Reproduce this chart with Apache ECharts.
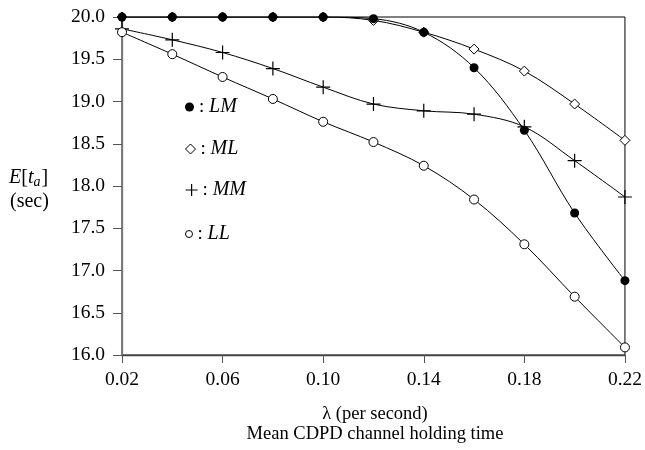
<!DOCTYPE html>
<html>
<head>
<meta charset="utf-8">
<script src="https://cdn.jsdelivr.net/npm/echarts@6/dist/echarts.min.js"></script>
<style>
  html, body { margin: 0; padding: 0; background: #fff; }
  #chart { width: 645px; height: 450px; }
</style>
</head>
<body>
<div id="chart"></div>
<script>
// Arrival rate lambda (per second)
const lambdas = [0.02, 0.04, 0.06, 0.08, 0.10, 0.12, 0.14, 0.16, 0.18, 0.20, 0.22];
const xTickValues = [0.02, 0.06, 0.10, 0.14, 0.18, 0.22];

// Mean time E[t_a] (sec) for each scheme
const seriesLM = [20.00, 20.00, 20.00, 20.00, 20.00, 19.98, 19.82, 19.40, 18.66, 17.68, 16.88];
const seriesML = [20.00, 20.00, 20.00, 20.00, 20.00, 19.96, 19.82, 19.62, 19.36, 18.97, 18.54];
const seriesMM = [19.86, 19.73, 19.58, 19.39, 19.17, 18.97, 18.89, 18.85, 18.70, 18.30, 17.87];
const seriesLL = [19.82, 19.56, 19.29, 19.03, 18.76, 18.52, 18.24, 17.84, 17.31, 16.69, 16.09];

const FONT = '"Liberation Serif", "DejaVu Serif", serif';
const PLUS = 'path://M0,6H12M6,0V12';

function pairs(ys) { return lambdas.map((x, i) => [x, ys[i]]); }

const lineStyle = { color: '#000', width: 1 };

const specs = [
  { name: 'LM', data: seriesLM, symbol: 'circle', size: 9,
    itemStyle: { color: '#000', borderColor: '#000', borderWidth: 0 }, z: 5,
    legendIcon: 'circle', legendSize: 9, legendCenter: 105 },
  { name: 'ML', data: seriesML, symbol: 'diamond', size: 10,
    itemStyle: { color: '#fff', borderColor: '#000', borderWidth: 1 }, z: 4,
    legendIcon: 'diamond', legendSize: 10, legendCenter: 147 },
  { name: 'MM', data: seriesMM, symbol: PLUS, size: 14,
    itemStyle: { color: 'rgba(0,0,0,0)', borderColor: '#000', borderWidth: 1.2 }, z: 3,
    legendIcon: PLUS, legendSize: 12, legendCenter: 188 },
  { name: 'LL', data: seriesLL, symbol: 'circle', size: 9,
    itemStyle: { color: '#fff', borderColor: '#000', borderWidth: 1 }, z: 3,
    legendIcon: 'circle', legendSize: 7, legendCenter: 232 }
];

const legendRich = {
  c: { fontFamily: FONT, fontSize: 19, color: '#000' },
  s: { fontFamily: FONT, fontSize: 20, fontStyle: 'italic', color: '#000' }
};

const option = {
  animation: false,
  backgroundColor: '#fff',
  grid: { left: 122, right: 17, top: 17, bottom: 95, show: true,
          borderColor: '#000', borderWidth: 1, backgroundColor: 'transparent' },
  xAxis: {
    type: 'value', min: 0.02, max: 0.22, interval: 0.02,
    axisLine: { lineStyle: { color: '#444', width: 1.3 } },
    axisTick: { show: true, inside: false, length: 8, customValues: xTickValues,
                lineStyle: { color: '#555' } },
    axisLabel: { customValues: xTickValues, margin: 15, fontFamily: FONT, fontSize: 19.5, color: '#000',
                 formatter: v => v.toFixed(2) },
    splitLine: { show: false }
  },
  yAxis: {
    type: 'value', min: 16, max: 20, interval: 0.5,
    axisLine: { show: true, lineStyle: { color: '#777', width: 1.3 } },
    axisTick: { show: true, inside: false, length: 9, lineStyle: { color: '#555' } },
    axisLabel: { margin: 17, fontFamily: FONT, fontSize: 19.5, color: '#000',
                 formatter: v => v.toFixed(1) },
    splitLine: { show: false }
  },
  legend: specs.map(s => ({
    data: [{ name: s.name, icon: s.legendIcon, itemStyle: s.itemStyle }],
    orient: 'vertical', left: 180, top: s.legendCenter - 13,
    itemWidth: s.legendSize, itemHeight: s.legendSize, itemGap: 0,
    selectedMode: false,
    formatter: name => '{c|:} {s|' + name + '}',
    textStyle: { rich: legendRich, fontSize: 19, fontFamily: FONT }
  })),
  graphic: [
    { type: 'text', left: 9, top: 168,
      style: { text: '{i|E}[{i|t}{b|a}]', fontFamily: FONT, fontSize: 20, fill: '#000',
               rich: { i: { fontFamily: FONT, fontSize: 20, fontStyle: 'italic' },
                       b: { fontFamily: FONT, fontSize: 14, fontStyle: 'italic', padding: [9, 1, 0, 0] } } } },
    { type: 'text', left: 10, top: 192,
      style: { text: '(sec)', fontFamily: FONT, fontSize: 20, fill: '#000' } },
    { type: 'text', x: 375, y: 414,
      style: { text: '\u03bb (per second)', fontFamily: FONT, fontSize: 18.5, fill: '#000',
               align: 'center', verticalAlign: 'middle' } },
    { type: 'text', x: 375, y: 434,
      style: { text: 'Mean CDPD channel holding time', fontFamily: FONT, fontSize: 18.5, fill: '#000',
               align: 'center', verticalAlign: 'middle' } }
  ],
  series: specs.map(s => ({
    name: s.name, type: 'line', data: pairs(s.data),
    smooth: 0.35, symbol: s.symbol, symbolSize: s.size, showSymbol: true,
    itemStyle: s.itemStyle, lineStyle: lineStyle, z: s.z,
    emphasis: { disabled: true }
  }))
};

echarts.init(document.getElementById('chart'), null, { renderer: 'canvas' }).setOption(option);
</script>
</body>
</html>
